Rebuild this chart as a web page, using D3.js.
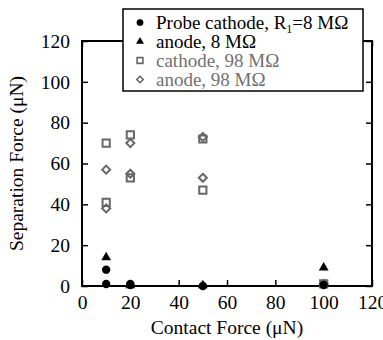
<!DOCTYPE html>
<html><head><meta charset="utf-8">
<script src="https://cdn.jsdelivr.net/npm/d3@7"></script>
<style>body{margin:0;background:#fff}svg{display:block}text{font-family:"Liberation Serif","DejaVu Serif",serif}</style>
</head><body><svg id="c" width="383" height="340"></svg>
<script>
const xTicks = [0, 20, 40, 60, 80, 100, 120];
const yTicks = [0, 20, 40, 60, 80, 100, 120];
const seriesNames = ["Probe cathode, R", "anode, 8 M\u03A9", "cathode, 98 M\u03A9", "anode, 98 M\u03A9"];
const cathode8 = [[10, 8], [10, 1], [20, 1], [20, 0.5], [50, 0], [100, 0.5]];
const anode8 = [[10, 14], [20, 0.3], [50, 0.3], [100, 9]];
const cathode98 = [[10, 70], [10, 41], [20, 74], [20, 53], [50, 72], [50, 47], [100, 1]];
const anode98 = [[10, 57], [10, 38], [20, 70], [20, 55], [50, 73], [50, 53], [100, 1]];

const svg = d3.select("#c");
const L = 82, R = 372, T = 41, B = 286;
const x = d3.scaleLinear().domain([0, 120]).range([L, R]);
const y = d3.scaleLinear().domain([0, 120]).range([B, T]);
const gray = "#666";
const fs = 19.5;
const FF = "Liberation Serif, DejaVu Serif, serif";

const tk = 6;
function styleAxis(g) {
  g.attr("font-family", FF);
  g.select(".domain").remove();
  g.selectAll("line").attr("stroke", "#000").attr("stroke-width", 1.5);
  g.selectAll("text").attr("font-size", fs).attr("fill", "#000").attr("font-family", FF);
}
svg.append("g").attr("transform", `translate(0,${B})`)
  .call(d3.axisBottom(x).tickValues(xTicks).tickSize(-tk).tickPadding(tk + 3)).call(styleAxis);
svg.append("g").attr("transform", `translate(${L},0)`)
  .call(d3.axisLeft(y).tickValues(yTicks).tickSize(-tk).tickPadding(tk + 6)).call(styleAxis);
svg.append("g").attr("transform", `translate(${R},0)`)
  .call(d3.axisRight(y).tickValues(yTicks).tickSize(-tk).tickFormat("")).call(styleAxis);
svg.append("g").attr("transform", `translate(0,${T})`)
  .call(d3.axisTop(x).tickValues(xTicks).tickSize(-tk).tickFormat("")).call(styleAxis);
svg.append("rect").attr("x", L).attr("y", T).attr("width", R - L).attr("height", B - T)
  .attr("fill", "none").attr("stroke", "#000").attr("stroke-width", 2);

svg.append("text").attr("x", (L + R) / 2).attr("y", 334).attr("text-anchor", "middle")
  .attr("font-size", fs).text("Contact Force (\u03BCN)");
svg.append("text").attr("transform", `translate(23,${(T + B) / 2}) rotate(-90)`).attr("text-anchor", "middle")
  .attr("font-size", fs).text("Separation Force (\u03BCN)");

function shape(s, k) {
  if (s === "circle") return d3.symbol().type(d3.symbolCircle).size(55 * k)();
  if (s === "tri") return d3.symbol().type(d3.symbolTriangle).size(42 * k)();
  if (s === "sq") { const h = 3.6 * Math.sqrt(k); return `M${-h},${-h}H${h}V${h}H${-h}Z`; }
  const h = 4 * Math.sqrt(k); return `M0,${-h}L${h},0L0,${h}L${-h},0Z`;
}
function draw(data, s, fill, stroke) {
  svg.append("g").selectAll("path").data(data).join("path")
    .attr("transform", d => `translate(${x(d[0])},${y(d[1])})`)
    .attr("d", shape(s, 1)).attr("fill", fill).attr("stroke", stroke).attr("stroke-width", stroke === "none" ? 0 : 2);
}
draw(cathode98, "sq", "none", gray);
draw(anode98, "dia", "none", gray);
draw(cathode8, "circle", "#000", "none");
draw(anode8, "tri", "#000", "none");

const lg = svg.append("g");
lg.append("rect").attr("x", 123).attr("y", 9).attr("width", 240).attr("height", 82)
  .attr("fill", "#fff").attr("stroke", "#000").attr("stroke-width", 1.5);
const rows = [
  { s: "circle", fill: "#000", stroke: "none", col: "#000" },
  { s: "tri", fill: "#000", stroke: "none", col: "#000" },
  { s: "sq", fill: "none", stroke: gray, col: "#707070" },
  { s: "dia", fill: "none", stroke: gray, col: "#707070" }
];
rows.forEach((r, i) => {
  const cy = 22.5 + i * 19;
  lg.append("path").attr("transform", `translate(140,${cy})`)
    .attr("d", shape(r.s, 0.65))
    .attr("fill", r.fill).attr("stroke", r.stroke).attr("stroke-width", r.stroke === "none" ? 0 : 1.6);
  const t = lg.append("text").attr("x", 156).attr("y", cy + 6).attr("font-size", 19).attr("fill", r.col);
  if (i === 0) {
    t.append("tspan").text(seriesNames[0]);
    t.append("tspan").attr("font-size", 12).attr("dy", 4).text("1");
    t.append("tspan").attr("dy", -4).text("=8 M\u03A9");
  } else {
    t.text(seriesNames[i]);
  }
});
</script></body></html>
